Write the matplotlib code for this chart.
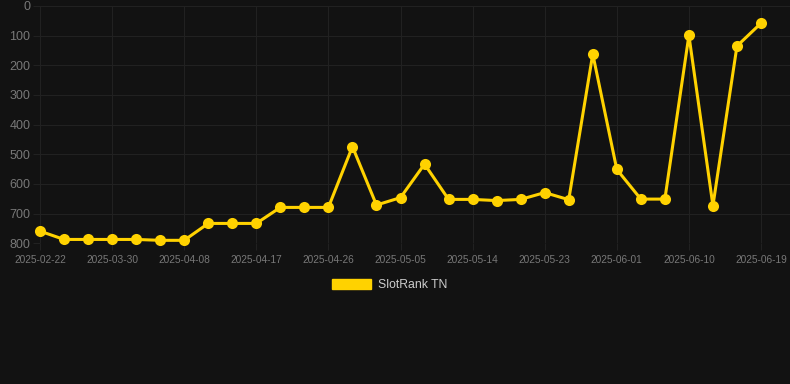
import matplotlib
matplotlib.use("Agg")
import matplotlib.pyplot as plt
from matplotlib.patches import Patch

dates = ["2025-02-22", "2025-03-24", "2025-03-27", "2025-03-30", "2025-04-02",
         "2025-04-05", "2025-04-08", "2025-04-11", "2025-04-14", "2025-04-17",
         "2025-04-20", "2025-04-23", "2025-04-26", "2025-04-29", "2025-05-02",
         "2025-05-05", "2025-05-08", "2025-05-11", "2025-05-14", "2025-05-17",
         "2025-05-20", "2025-05-23", "2025-05-26", "2025-05-29", "2025-06-01",
         "2025-06-04", "2025-06-07", "2025-06-10", "2025-06-13", "2025-06-16",
         "2025-06-19"]
ranks = [759, 787, 787, 787, 787, 790, 790, 733, 733, 733,
         679, 679, 679, 474, 671, 646, 533, 652, 652, 656,
         652, 629, 653, 162, 551, 651, 651, 99, 673, 135, 58]
series_name = "SlotRank TN"
y_ticks = [0, 100, 200, 300, 400, 500, 600, 700, 800]

BG = "#121212"
GOLD = "#FFD200"
GRID = "#212121"

W, H = 790, 384
fig = plt.figure(figsize=(W / 100, H / 100), dpi=100, facecolor=BG)
ax = fig.add_axes([40 / W, (H - 243.3) / H, 750 / W, (243.3 - 6) / H])
ax.set_facecolor(BG)

x = list(range(len(dates)))
ax.plot(x, ranks, color=GOLD, linewidth=2.2, marker="o", markersize=8,
        markeredgewidth=0, solid_joinstyle="miter", zorder=3, clip_on=False)

step = (761 - 40) / 30
ax.set_xlim(0, 750 / step)
ax.set_ylim(800, 0)

ax.set_yticks(y_ticks)
ax.set_yticklabels([str(v) for v in y_ticks])
tick_idx = list(range(0, len(dates), 3))
ax.set_xticks(tick_idx)
ax.set_xticklabels([dates[i] for i in tick_idx])

for s in ax.spines.values():
    s.set_visible(False)

ax.grid(True, color=GRID, linewidth=0.8, zorder=0)
ax.tick_params(axis="y", length=5, width=0.8, color=GRID, pad=2,
               labelsize=9, labelcolor="#787878")
ax.tick_params(axis="x", length=5, width=0.8, color=GRID, pad=3.5,
               labelsize=7.3, labelcolor="#787878")
for lab in ax.get_xticklabels() + ax.get_yticklabels():
    lab.set_fontfamily("Liberation Sans")

handle = Patch(facecolor=GOLD, edgecolor=GOLD, label=series_name)
leg = fig.legend(handles=[handle], loc="center",
                 bbox_to_anchor=(389.5 / W, 99 / H), frameon=False,
                 prop={"family": "Liberation Sans", "size": 8.8},
                 handlelength=3.25, handleheight=0.9, handletextpad=0.55)
for t in leg.get_texts():
    t.set_color("#cccccc")

fig.savefig("out.png", dpi=100, facecolor=BG)
